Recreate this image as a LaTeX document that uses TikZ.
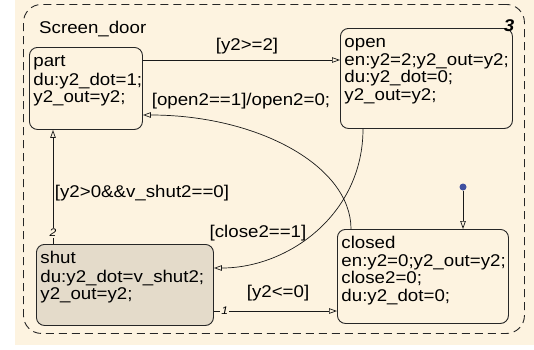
\documentclass[tikz,border=0pt]{standalone}
\usepackage{fontspec}
\setmainfont{Liberation Sans}[FakeStretch=1.1]
\usetikzlibrary{arrows.meta, calc}

\definecolor{chartbg}{RGB}{253,243,224}
\definecolor{shutfill}{RGB}{228,219,202}
\definecolor{dotblue}{RGB}{64,80,160}

\tikzset{
  chart/.style={draw=black!85, line width=0.9pt, dash pattern=on 8pt off 5pt,
    rounded corners=18pt, anchor=north west, inner sep=0pt},
  state/.style={draw=black!85, line width=0.9pt, rounded corners=8pt,
    anchor=north west, inner xsep=4pt, inner ysep=7pt},
  trans/.style={draw=black!90, line width=0.7pt,
    -{Triangle[open, length=8pt, width=5.5pt]}},
  lbl/.style={inner sep=0pt},
  num/.style={inner sep=1pt, fill=chartbg, font=\fontsize{11}{11}\selectfont\itshape},
  dot/.style={circle, fill=dotblue, inner sep=0pt, minimum size=7pt},
}
\newcommand{\statetext}[3]{\parbox[t][#2][t]{#1}{\strut #3}}

\begin{document}
\begin{tikzpicture}[x=1pt, y=-1pt, font=\fontsize{17}{17.5}\selectfont]
  % 1. background and the chart
  \useasboundingbox (0,0) rectangle (534,349);
  \fill[chartbg] (15,0) rectangle (534,345);
  \node[chart, minimum width=501pt, minimum height=329pt] (door) at (23,4) {};
  \node[lbl, anchor=base west] (doorname) at (39,33) {Screen\_door};

  % 2. the four states
  \node[state] (part) at (29,47)
    {\statetext{105pt}{68pt}{part\\du:y2\_dot=1;\\y2\_out=y2;}};
  \node[state] (open) at (340,28)
    {\statetext{164pt}{86pt}{open\\en:y2=2;y2\_out=y2;\\du:y2\_dot=0;\\y2\_out=y2;}};
  \node[state, fill=shutfill] (shut) at (36,244)
    {\statetext{169pt}{67pt}{shut\\du:y2\_dot=v\_shut2;\\y2\_out=y2;}};
  \node[state] (closed) at (337,229)
    {\statetext{163pt}{80pt}{closed\\en:y2=0;y2\_out=y2;\\close2=0;\\du:y2\_dot=0;}};
  \node[inner sep=0pt, font=\fontsize{17}{17}\selectfont\bfseries\itshape] (order) at (509,26) {3};

  % 3. default transition
  \node[dot] (init) at (463,187) {};
  \draw[trans] (init) -- (closed.north -| init);

  % 4. transitions between states
  \draw[trans] (part.east |- 0,60) -- (open.west |- 0,60);
  \draw[trans] (closed.north -| 351,0) .. controls +(0,-63) and +(115,0) .. (part.east |- 0,115);
  \draw[trans] (open.south -| 363,0) .. controls +(0,85) and +(75,0) .. (shut.east |- 0,268);
  \draw[trans] (shut.north -| 53,0) -- (part.south -| 53,0) node[num, pos=0.096] (two) {2};
  \draw[trans] (shut.east |- 0,311) -- (closed.west |- 0,311) node[num, pos=0.089] (one) {1};

  % 5. conditions
  \node[lbl] (c1) at (247,46) {[y2>=2]};
  \node[lbl] (c2) at (241,101) {[open2==1]/open2=0;};
  \node[lbl] (c3) at (142,193) {[y2>0\&\&v\_shut2==0]};
  \node[lbl] (c4) at (258,233) {[close2==1]};
  \node[lbl] (c5) at (278,293) {[y2<=0]};
\end{tikzpicture}
\end{document}
